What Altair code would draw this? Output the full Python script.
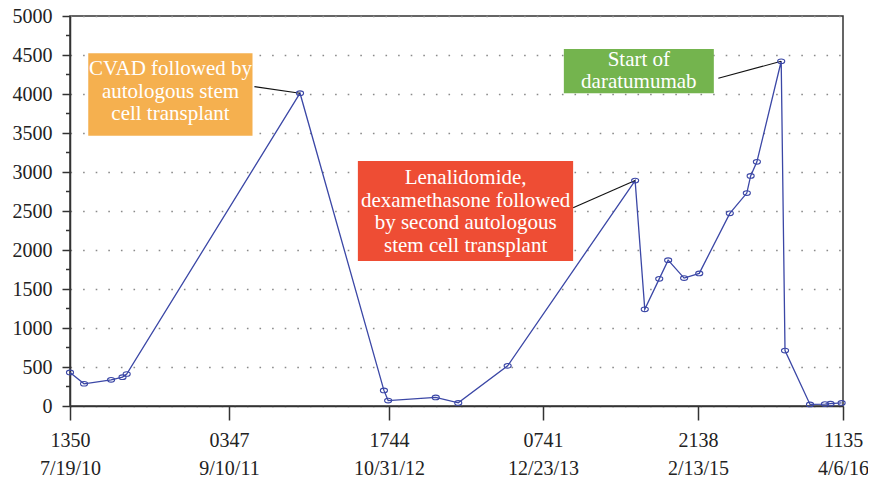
import altair as alt
import pandas as pd

# ---- data ----
dates = [
    "2010-07-19T13:50", "2010-08-25T12:00", "2010-11-04T12:00", "2010-12-04T12:00",
    "2010-12-15T12:00", "2012-03-13T12:00", "2012-10-18T12:00", "2012-10-29T12:00",
    "2013-03-07T12:00", "2013-05-07T12:00", "2013-09-18T12:00", "2014-08-28T12:00",
    "2014-09-23T12:00", "2014-11-01T12:00", "2014-11-25T12:00", "2015-01-07T12:00",
    "2015-02-17T12:00", "2015-05-16T12:00", "2015-07-04T12:00", "2015-07-15T12:00",
    "2015-08-02T12:00", "2015-10-11T12:00", "2015-10-22T12:00", "2016-01-02T12:00",
    "2016-02-14T12:00", "2016-03-01T12:00", "2016-04-02T12:00",
]
values = [
    430, 285, 335, 370, 410, 4010, 200, 70, 110, 40, 515, 2890,
    1240, 1630, 1870, 1640, 1700, 2470, 2730, 2950, 3130, 4420, 710, 20,
    25, 30, 40,
]

# axis ticks (the original axis is spaced unevenly; reproduce it piecewise)
tick_dates = [
    "2010-07-19T13:50", "2011-09-10T03:47", "2012-10-31T17:44",
    "2013-12-23T07:41", "2015-02-13T21:38", "2016-04-06T11:35",
]
tick_positions = [0, 159, 319, 473, 628, 773]
y_major = list(range(0, 5001, 500))
y_minor = list(range(250, 5000, 500))

# annotations
ann_labels = [
    "CVAD followed by\nautologous stem\ncell transplant",
    "Lenalidomide,\ndexamethasone followed\nby second autologous\nstem cell transplant",
    "Start of\ndaratumumab",
]
ann_colors = ["#F5B04F", "#EE4D34", "#74B44E"]
ann_x_left = ["2010-09-05T12:00", "2012-08-11T12:00", "2014-02-17T12:00"]
ann_x_right = ["2011-11-10T12:00", "2014-03-14T12:00", "2015-03-31T12:00"]
ann_y_top = [4522, 3141, 4577]
ann_y_bottom = [3465, 1859, 4009]
ann_text_x = ["2011-04-09T12:00", "2013-05-27T12:00", "2014-09-07T12:00"]
ann_text_y = [4320, 2919, 4436]   # first line of each label
ann_conn_x = ["2011-11-15T12:00", "2014-03-14T12:00", "2015-04-13T12:00"]
ann_conn_y = [4094, 2542, 4201]
ann_peak_x = ["2012-03-13T12:00", "2014-08-28T12:00", "2015-10-11T12:00"]
ann_peak_y = [4010, 2890, 4420]


def to_ms(strings):
    return [int(v) // 10**6 for v in pd.to_datetime(pd.Series(strings)).astype("int64")]


df = pd.DataFrame({"t": to_ms(dates), "value": values})
ann = pd.DataFrame({
    "label": ann_labels, "color": ann_colors,
    "x_left": to_ms(ann_x_left), "x_right": to_ms(ann_x_right),
    "y_top": ann_y_top, "y_bottom": ann_y_bottom,
    "text_x": to_ms(ann_text_x), "text_y": ann_text_y,
    "conn_x": to_ms(ann_conn_x), "conn_y": ann_conn_y,
    "peak_x": to_ms(ann_peak_x), "peak_y": ann_peak_y,
})
minor_df = pd.DataFrame({"v": y_minor})
tick_ms = to_ms(tick_dates)

FONT = "Liberation Serif"
BLUE = "#3B47A6"
DARK = "#333333"

x_scale = alt.Scale(domain=tick_ms, range=tick_positions, nice=False, zero=False)
y_scale = alt.Scale(domain=[0, 5000], nice=False)

x_axis = alt.Axis(
    values=tick_ms, tickCount=50,
    labelExpr="[utcFormat(datum.value, '%H%M'), utcFormat(datum.value, '%-m/%-d/%y')]",
    title=None, tickSize=14, tickWidth=1.5, tickColor=DARK,
    domainColor=DARK, domainWidth=1.5,
    labelFont=FONT, labelFontSize=20, labelColor="#222222",
    labelPadding=10, labelLineHeight=28, labelFlush=False,
    labelOverlap=False, labelBound=False, labelBaseline="top", grid=False,
)
y_axis = alt.Axis(
    values=y_major, tickCount=50, format="d", title=None,
    tickSize=8, tickWidth=1.5, tickColor=DARK, domainColor=DARK, domainWidth=1.5,
    labelFont=FONT, labelFontSize=20, labelColor="#222222", labelPadding=10,
    labelOverlap=False, labelBound=False, labelFlush=False,
    grid=True, gridColor="#8a8a8a", gridWidth=1.6, gridDash=[1.6, 11],
)

base = alt.Chart(df)

line = base.mark_line(color=BLUE, strokeWidth=1.3).encode(
    x=alt.X("t:Q", scale=x_scale, axis=x_axis),
    y=alt.Y("value:Q", scale=y_scale, axis=y_axis),
)
points = base.mark_point(
    shape="M-1,0A1,0.65,0,1,1,1,0A1,0.65,0,1,1,-1,0Z",
    filled=False, color=BLUE, size=50, strokeWidth=1.1, opacity=1,
).encode(
    x=alt.X("t:Q", scale=x_scale),
    y=alt.Y("value:Q", scale=y_scale),
)

minor_ticks = alt.Chart(minor_df).mark_rule(color=DARK, strokeWidth=1.5).encode(
    y=alt.Y("v:Q", scale=y_scale),
    x=alt.value(-4), x2=alt.value(0),
)

annb = alt.Chart(ann)
connectors = annb.mark_rule(color="#111111", strokeWidth=1.1).encode(
    x=alt.X("conn_x:Q", scale=x_scale), x2="peak_x:Q",
    y=alt.Y("conn_y:Q", scale=y_scale), y2="peak_y:Q",
)
boxes = annb.mark_rect().encode(
    x=alt.X("x_left:Q", scale=x_scale), x2="x_right:Q",
    y=alt.Y("y_top:Q", scale=y_scale), y2="y_bottom:Q",
    color=alt.Color("color:N", scale=None),
)
texts = annb.mark_text(
    font=FONT, fontSize=21, color="white", lineBreak="\n", lineHeight=22.5,
    align="center", baseline="middle",
).encode(
    x=alt.X("text_x:Q", scale=x_scale),
    y=alt.Y("text_y:Q", scale=y_scale),
    text="label:N",
)

chart = alt.layer(line, minor_ticks, connectors, points, boxes, texts).properties(
    width=773, height=390,
    padding={"left": 62, "top": 8, "right": 25, "bottom": 72},
    autosize=alt.AutoSizeParams(type="none"),
    background="white",
).configure_view(stroke=DARK, strokeWidth=1.5)

chart.save("out.html", embed_options={"renderer": "svg", "actions": False})
